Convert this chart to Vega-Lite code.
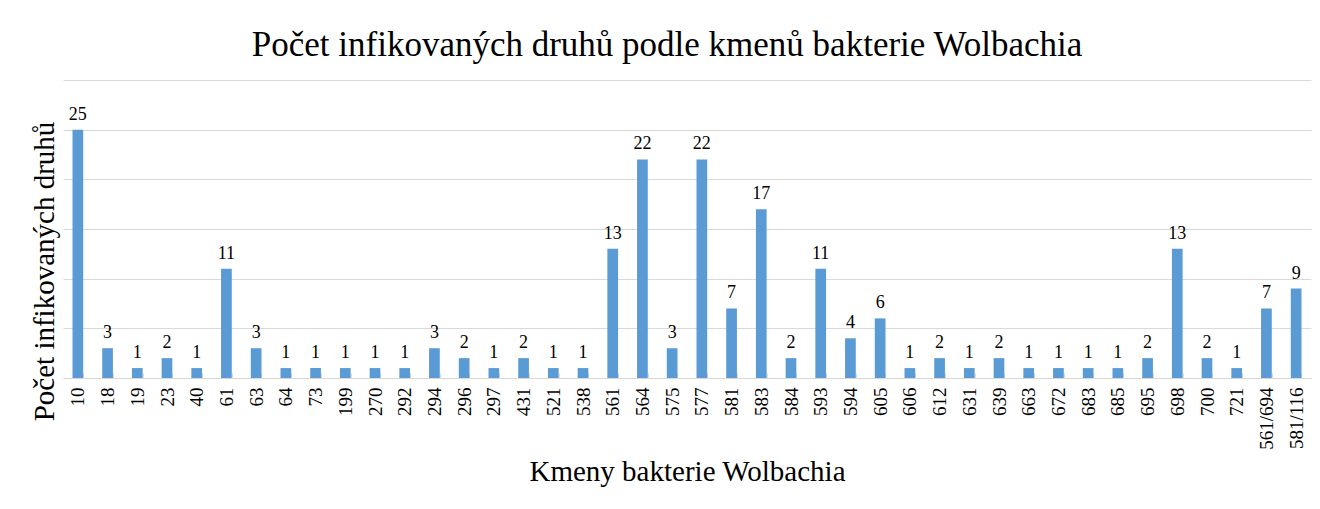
{
  "$schema": "https://vega.github.io/schema/vega-lite/v6.json",
  "width": 1248,
  "height": 298,
  "autosize": {"type": "none"},
  "padding": {"left": 63, "top": 80, "right": 9, "bottom": 131},
  "background": "white",
  "title": {
    "text": "Počet infikovaných druhů podle kmenů bakterie Wolbachia",
    "font": "Liberation Serif",
    "fontSize": 35,
    "fontWeight": "normal",
    "color": "#000000",
    "anchor": "middle",
    "dx": -20,
    "offset": 17
  },
  "data": {
    "values": [
      {"kmen": "10", "pocet": 25},
      {"kmen": "18", "pocet": 3},
      {"kmen": "19", "pocet": 1},
      {"kmen": "23", "pocet": 2},
      {"kmen": "40", "pocet": 1},
      {"kmen": "61", "pocet": 11},
      {"kmen": "63", "pocet": 3},
      {"kmen": "64", "pocet": 1},
      {"kmen": "73", "pocet": 1},
      {"kmen": "199", "pocet": 1},
      {"kmen": "270", "pocet": 1},
      {"kmen": "292", "pocet": 1},
      {"kmen": "294", "pocet": 3},
      {"kmen": "296", "pocet": 2},
      {"kmen": "297", "pocet": 1},
      {"kmen": "431", "pocet": 2},
      {"kmen": "521", "pocet": 1},
      {"kmen": "538", "pocet": 1},
      {"kmen": "561", "pocet": 13},
      {"kmen": "564", "pocet": 22},
      {"kmen": "575", "pocet": 3},
      {"kmen": "577", "pocet": 22},
      {"kmen": "581", "pocet": 7},
      {"kmen": "583", "pocet": 17},
      {"kmen": "584", "pocet": 2},
      {"kmen": "593", "pocet": 11},
      {"kmen": "594", "pocet": 4},
      {"kmen": "605", "pocet": 6},
      {"kmen": "606", "pocet": 1},
      {"kmen": "612", "pocet": 2},
      {"kmen": "631", "pocet": 1},
      {"kmen": "639", "pocet": 2},
      {"kmen": "663", "pocet": 1},
      {"kmen": "672", "pocet": 1},
      {"kmen": "683", "pocet": 1},
      {"kmen": "685", "pocet": 1},
      {"kmen": "695", "pocet": 2},
      {"kmen": "698", "pocet": 13},
      {"kmen": "700", "pocet": 2},
      {"kmen": "721", "pocet": 1},
      {"kmen": "561/694", "pocet": 7},
      {"kmen": "581/116", "pocet": 9}
    ]
  },
  "encoding": {
    "x": {
      "field": "kmen",
      "type": "nominal",
      "sort": null,
      "scale": {"paddingInner": 0.64, "paddingOuter": 0.32},
      "axis": {
        "title": "Kmeny bakterie Wolbachia",
        "titleFont": "Liberation Serif",
        "titleFontSize": 29,
        "titleFontWeight": "normal",
        "titleColor": "#000000",
        "titlePadding": 8,
        "labelFont": "Liberation Serif",
        "labelFontSize": 19,
        "labelColor": "#000000",
        "labelAngle": -90,
        "labelPadding": 14,
        "labelOverlap": false,
        "tickBand": "extent",
        "tickSize": -5,
        "tickColor": "#d9d9d9",
        "domainColor": "#d9d9d9"
      }
    },
    "y": {
      "field": "pocet",
      "type": "quantitative",
      "scale": {"domain": [0, 30], "nice": false},
      "axis": {
        "title": "Počet infikovaných druhů",
        "titleFont": "Liberation Serif",
        "titleFontSize": 29,
        "titleFontWeight": "normal",
        "titleColor": "#000000",
        "titlePadding": 4,
        "titleY": 191,
        "labels": false,
        "ticks": false,
        "domain": false,
        "grid": true,
        "gridColor": "#d9d9d9",
        "values": [0, 5, 10, 15, 20, 25, 30]
      }
    }
  },
  "layer": [
    {"mark": {"type": "bar", "color": "#5b9bd5"}},
    {
      "mark": {
        "type": "text",
        "baseline": "alphabetic",
        "dy": -10,
        "font": "Liberation Serif",
        "fontSize": 18,
        "color": "#000000"
      },
      "encoding": {"text": {"field": "pocet", "type": "quantitative"}}
    }
  ],
  "config": {
    "font": "Liberation Serif",
    "view": {"stroke": null},
    "axis": {"labelFont": "Liberation Serif", "titleFont": "Liberation Serif"},
    "text": {"font": "Liberation Serif"}
  }
}
